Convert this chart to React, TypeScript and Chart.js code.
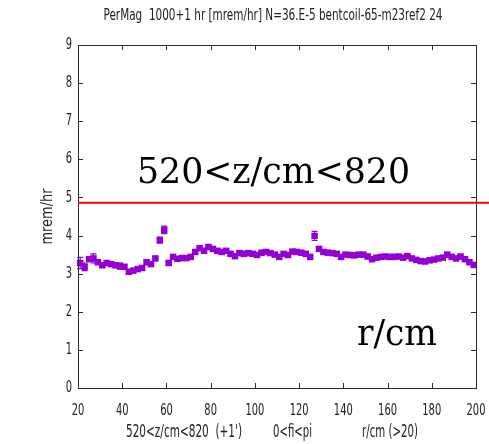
import React, { useEffect, useRef } from 'react';
import { Chart, registerables } from 'chart.js';
Chart.register(...registerables);

const titleText = 'PerMag  1000+1 hr [mrem/hr] N=36.E-5 bentcoil-65-m23ref2 24';
const yAxisTitle = 'mrem/hr';
const xTitleParts = ["520<z/cm<820  (+1')", '0<fi<pi', 'r/cm (>20)'];
const bigLabelTop = '520<z/cm<820';
const bigLabelBottom = 'r/cm';

const rValues = [
  21, 23, 25, 27, 29, 31, 33, 35, 37, 39,
  41, 43, 45, 47, 49, 51, 53, 55, 57, 59,
  61, 63, 65, 67, 69, 71, 73, 75, 77, 79,
  81, 83, 85, 87, 89, 91, 93, 95, 97, 99,
  101, 103, 105, 107, 109, 111, 113, 115, 117, 119,
  121, 123, 125, 127, 129, 131, 133, 135, 137, 139,
  141, 143, 145, 147, 149, 151, 153, 155, 157, 159,
  161, 163, 165, 167, 169, 171, 173, 175, 177, 179,
  181, 183, 185, 187, 189, 191, 193, 195, 197, 199,
];
const doseValues = [
  3.28, 3.18, 3.38, 3.40, 3.30, 3.22, 3.28, 3.25, 3.22, 3.20,
  3.18, 3.05, 3.08, 3.12, 3.15, 3.30, 3.25, 3.40, 3.88, 4.15,
  3.28, 3.44, 3.39, 3.41, 3.41, 3.44, 3.57, 3.67, 3.60, 3.70,
  3.65, 3.60, 3.57, 3.60, 3.52, 3.46, 3.54, 3.52, 3.54, 3.52,
  3.49, 3.55, 3.57, 3.54, 3.50, 3.44, 3.52, 3.49, 3.58, 3.57,
  3.55, 3.52, 3.44, 3.99, 3.65, 3.57, 3.55, 3.54, 3.52, 3.44,
  3.50, 3.49, 3.48, 3.50, 3.50, 3.45, 3.38, 3.42, 3.44, 3.45,
  3.44, 3.44, 3.45, 3.42, 3.46, 3.40, 3.36, 3.33, 3.32, 3.35,
  3.37, 3.40, 3.42, 3.50, 3.44, 3.40, 3.45, 3.38, 3.30, 3.23,
];
const doseErrors = [
  0.15, 0.10, 0.06, 0.12, 0.06, 0.05, 0.06, 0.05, 0.05, 0.08,
  0.05, 0.05, 0.05, 0.05, 0.05, 0.05, 0.05, 0.05, 0.08, 0.10,
  0.05, 0.05, 0.05, 0.05, 0.05, 0.05, 0.05, 0.05, 0.05, 0.05,
  0.05, 0.05, 0.05, 0.05, 0.05, 0.05, 0.05, 0.05, 0.05, 0.05,
  0.05, 0.05, 0.05, 0.05, 0.05, 0.05, 0.05, 0.05, 0.05, 0.05,
  0.05, 0.05, 0.05, 0.12, 0.05, 0.05, 0.05, 0.05, 0.05, 0.05,
  0.05, 0.05, 0.05, 0.05, 0.05, 0.05, 0.05, 0.05, 0.05, 0.05,
  0.05, 0.05, 0.05, 0.05, 0.05, 0.05, 0.05, 0.05, 0.05, 0.05,
  0.05, 0.05, 0.05, 0.05, 0.05, 0.05, 0.05, 0.05, 0.05, 0.05,
];
const limitValue = 4.86;

const POINT_COLOR = '#9400d3';
const AXIS_COLOR = '#2a2a2a';
const TEXT_COLOR = '#222222';
const GP_FONT = '16px "DejaVu Sans", sans-serif';

function drawText(
  ctx: CanvasRenderingContext2D, text: string, x: number, y: number, font: string,
  opts: { width?: number; sx?: number; align?: CanvasTextAlign; baseline?: CanvasTextBaseline; color?: string; rotate?: number }
) {
  ctx.save();
  ctx.font = font;
  const w = ctx.measureText(text).width;
  const s = opts.width ? opts.width / w : (opts.sx ?? 1);
  ctx.translate(x, y);
  if (opts.rotate) ctx.rotate(opts.rotate);
  ctx.scale(s, 1);
  ctx.textAlign = opts.align ?? 'center';
  ctx.textBaseline = opts.baseline ?? 'middle';
  ctx.fillStyle = opts.color ?? TEXT_COLOR;
  ctx.fillText(text, 0, 0);
  ctx.restore();
}

const gnuplotPlugin = {
  id: 'gnuplotLook',
  beforeDatasetsDraw(chart: any) {
    const ctx: CanvasRenderingContext2D = chart.ctx;
    const xs = chart.scales.x;
    const ys = chart.scales.y;
    ctx.save();
    ctx.strokeStyle = POINT_COLOR;
    ctx.lineWidth = 1.2;
    for (let i = 0; i < rValues.length; i++) {
      const px = xs.getPixelForValue(rValues[i]);
      const top = ys.getPixelForValue(doseValues[i] + doseErrors[i]);
      const bot = ys.getPixelForValue(doseValues[i] - doseErrors[i]);
      ctx.beginPath();
      ctx.moveTo(px, top); ctx.lineTo(px, bot);
      ctx.moveTo(px - 3, top); ctx.lineTo(px + 3, top);
      ctx.moveTo(px - 3, bot); ctx.lineTo(px + 3, bot);
      ctx.stroke();
    }
    ctx.restore();
  },
  afterDraw(chart: any) {
    const ctx: CanvasRenderingContext2D = chart.ctx;
    const a = chart.chartArea;
    const xs = chart.scales.x;
    const ys = chart.scales.y;
    ctx.save();
    // frame
    ctx.strokeStyle = AXIS_COLOR;
    ctx.lineWidth = 1;
    ctx.strokeRect(Math.round(a.left) + 0.5, Math.round(a.top) + 0.5, Math.round(a.right - a.left), Math.round(a.bottom - a.top));
    // inward ticks
    ctx.beginPath();
    ys.ticks.forEach((t: any) => {
      const py = Math.round(ys.getPixelForValue(t.value)) + 0.5;
      ctx.moveTo(a.left, py); ctx.lineTo(a.left + 5, py);
      ctx.moveTo(a.right, py); ctx.lineTo(a.right - 5, py);
    });
    xs.ticks.forEach((t: any) => {
      const px = Math.round(xs.getPixelForValue(t.value)) + 0.5;
      ctx.moveTo(px, a.bottom); ctx.lineTo(px, a.bottom - 5);
      ctx.moveTo(px, a.top); ctx.lineTo(px, a.top + 5);
    });
    ctx.stroke();
    // red limit line
    const ly = ys.getPixelForValue(limitValue);
    ctx.strokeStyle = '#ff0000';
    ctx.lineWidth = 2;
    ctx.beginPath();
    ctx.moveTo(a.left, ly); ctx.lineTo(chart.width, ly);
    ctx.stroke();
    ctx.restore();

    // tick labels
    ys.ticks.forEach((t: any) => {
      drawText(ctx, String(t.value), a.left - 6, ys.getPixelForValue(t.value), GP_FONT, { sx: 0.62, align: 'right' });
    });
    xs.ticks.forEach((t: any) => {
      drawText(ctx, String(t.value), xs.getPixelForValue(t.value), a.bottom + 23, GP_FONT, { sx: 0.62 });
    });
    // titles
    drawText(ctx, titleText, (a.left + a.right) / 2 - 4, 16, GP_FONT, { width: 339 });
    drawText(ctx, yAxisTitle, 48, (a.top + a.bottom) / 2, GP_FONT, { width: 56, rotate: -Math.PI / 2 });
    drawText(ctx, xTitleParts[0], 126, 433, '17px "DejaVu Sans", sans-serif', { width: 116, align: 'left' });
    drawText(ctx, xTitleParts[1], 273, 433, '17px "DejaVu Sans", sans-serif', { width: 39, align: 'left' });
    drawText(ctx, xTitleParts[2], 362, 433, '17px "DejaVu Sans", sans-serif', { width: 56, align: 'left' });
    // large annotations
    const serif = '35px "DejaVu Serif", serif';
    drawText(ctx, bigLabelTop, a.left + 59, a.top + 138, serif, { width: 273, align: 'left', baseline: 'alphabetic', color: '#000' });
    drawText(ctx, bigLabelBottom, a.left + 279, a.top + 300, serif, { width: 80, align: 'left', baseline: 'alphabetic', color: '#000' });
  },
};

export default function App() {
  const ref = useRef<HTMLCanvasElement | null>(null);
  useEffect(() => {
    document.body.style.margin = '0';
    const canvas = ref.current!;
    const chart = new Chart(canvas, {
      type: 'scatter',
      data: {
        datasets: [{
          data: rValues.map((r, i) => ({ x: r, y: doseValues[i] })),
          backgroundColor: POINT_COLOR,
          borderColor: POINT_COLOR,
          borderWidth: 0,
          pointStyle: 'rect',
          pointRadius: 4.6,
          showLine: false,
          clip: false,
        } as any],
      },
      options: {
        animation: false,
        responsive: false,
        layout: { padding: { top: 45, right: 13, left: 0, bottom: 0 } },
        plugins: { legend: { display: false }, tooltip: { enabled: false }, title: { display: false } },
        scales: {
          x: {
            type: 'linear', min: 20, max: 200,
            ticks: { display: false, stepSize: 20 },
            grid: { display: false, drawTicks: false },
            border: { display: false },
            afterFit: (s: any) => { s.height = 56; },
          },
          y: {
            type: 'linear', min: 0, max: 9,
            ticks: { display: false, stepSize: 1 },
            grid: { display: false, drawTicks: false },
            border: { display: false },
            afterFit: (s: any) => { s.width = 78; },
          },
        },
      } as any,
      plugins: [gnuplotPlugin],
    });
    return () => chart.destroy();
  }, []);
  return (
    <div style={{ width: 489, height: 444, background: '#fff' }}>
      <canvas ref={ref} width={489} height={444} style={{ display: 'block' }} />
    </div>
  );
}
